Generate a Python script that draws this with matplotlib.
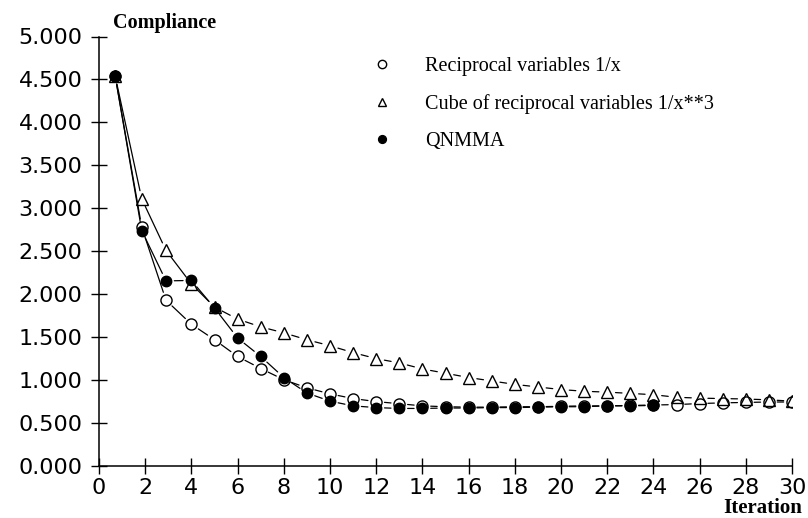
import matplotlib
matplotlib.use("Agg")
import matplotlib.pyplot as plt
from matplotlib.lines import Line2D

# iteration positions
iter_x = [0.7, 1.85, 2.9] + list(range(4, 31))

# Reciprocal variables 1/x (open circles)
recip = [4.54, 2.78, 1.93, 1.65, 1.47, 1.275, 1.135, 1.005, 0.91, 0.84,
         0.785, 0.75, 0.725, 0.70, 0.69, 0.685, 0.685, 0.69, 0.69, 0.695,
         0.70, 0.70, 0.705, 0.71, 0.715, 0.727, 0.735, 0.74, 0.745, 0.745]

# Cube of reciprocal variables 1/x**3 (open triangles)
cube = [4.54, 3.11, 2.51, 2.12, 1.85, 1.71, 1.62, 1.55, 1.47, 1.40,
        1.32, 1.25, 1.20, 1.13, 1.08, 1.03, 0.99, 0.95, 0.92, 0.89,
        0.87, 0.86, 0.845, 0.83, 0.80, 0.79, 0.785, 0.78, 0.77, 0.755]

# QNMMA (filled circles), 24 iterations
qnmma = [4.54, 2.74, 2.155, 2.16, 1.84, 1.49, 1.275, 1.03, 0.85, 0.755,
         0.70, 0.68, 0.67, 0.67, 0.675, 0.675, 0.68, 0.68, 0.685, 0.69,
         0.69, 0.70, 0.70, 0.705]

labels = ["Reciprocal variables 1/x",
          "Cube of reciprocal variables 1/x**3",
          "QNMMA"]

xticks = list(range(0, 31, 2))
yticks = [0.0, 0.5, 1.0, 1.5, 2.0, 2.5, 3.0, 3.5, 4.0, 4.5, 5.0]

serif = "Liberation Serif"
sans = "DejaVu Sans"

fig = plt.figure(figsize=(8.08, 5.18), dpi=100)
ax = fig.add_axes([99 / 808, 1 - 466 / 518, (792 - 99) / 808, (466 - 36.5) / 518])


def draw_series(xs, ys, marker, face, ms):
    # segments with a gap at each marker, like the old plotter output
    for i in range(len(ys) - 1):
        ax.annotate("", xy=(xs[i + 1], ys[i + 1]), xytext=(xs[i], ys[i]),
                    arrowprops=dict(arrowstyle="-", color="black", lw=0.9,
                                    shrinkA=6, shrinkB=6))
    ax.plot(xs[:len(ys)], ys, linestyle="none", marker=marker, ms=ms,
            mfc=face, mec="black", mew=1.0, zorder=3)


draw_series(iter_x, recip, "o", "none", 8)
draw_series(iter_x, cube, "^", "none", 8)
draw_series(iter_x, qnmma, "o", "black", 7.5)

ax.set_xlim(0, 30)
ax.set_ylim(0, 5)
ax.set_xticks(xticks)
ax.set_xticklabels([str(t) for t in xticks], fontsize=16, family=sans)
ax.set_yticks(yticks)
ax.set_yticklabels(["%.3f" % t for t in yticks], fontsize=16, family=sans)
ax.tick_params(direction="inout", length=12, width=1.0, pad=6)
ax.tick_params(axis="x", pad=3)

for s in ["top", "right"]:
    ax.spines[s].set_visible(False)
for s in ["left", "bottom"]:
    ax.spines[s].set_linewidth(1.1)

fig.text(113 / 808, 1 - 23 / 518, "Compliance", family=serif, weight="bold",
         fontsize=14.5, ha="left", va="center")
fig.text(802 / 808, 1 - 508 / 518, "Iteration", family=serif, weight="bold",
         fontsize=15, ha="right", va="center")

handles = [
    Line2D([], [], linestyle="none", marker="o", ms=8, mfc="none", mec="black"),
    Line2D([], [], linestyle="none", marker="^", ms=8, mfc="none", mec="black"),
    Line2D([], [], linestyle="none", marker="o", ms=7.5, mfc="black", mec="black"),
]
ax.legend(handles, labels, loc="upper left",
          bbox_to_anchor=(372 / 808, 1 - 57 / 518), bbox_transform=fig.transFigure,
          frameon=False, markerscale=0.75, handlelength=1.0, handletextpad=1.65,
          borderpad=0, borderaxespad=0, labelspacing=0.9,
          prop={"family": serif, "size": 14.5})

plt.savefig("out.png", dpi=100)
